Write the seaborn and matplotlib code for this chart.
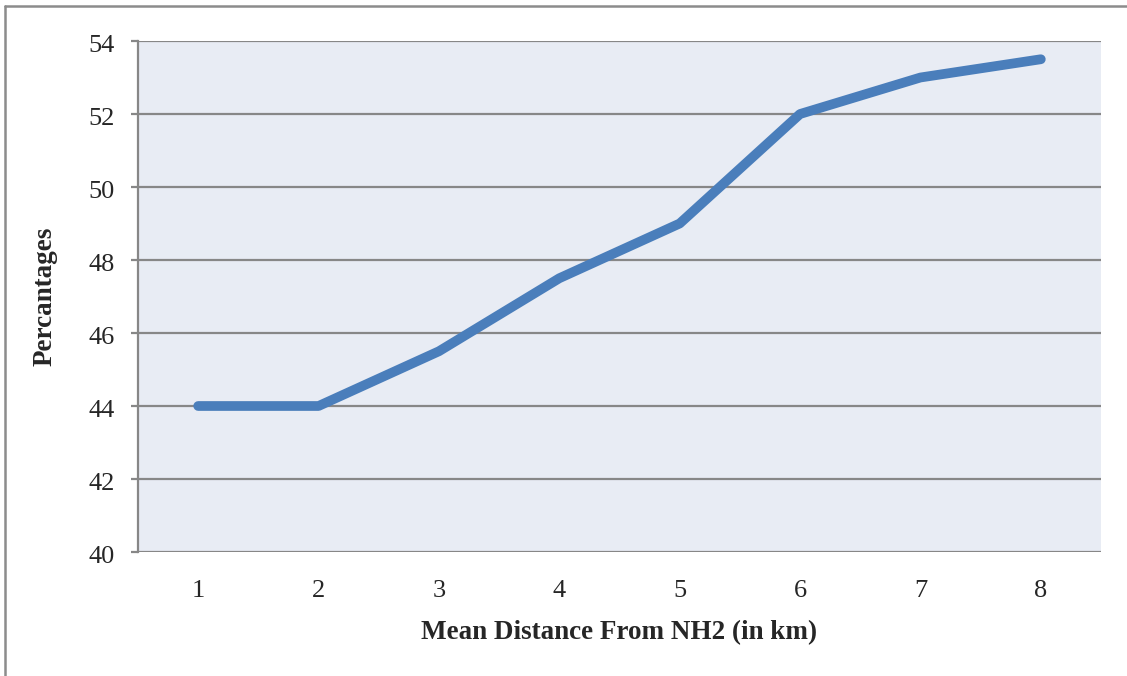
import matplotlib
matplotlib.use("Agg")
import matplotlib.pyplot as plt
import matplotlib.transforms as mtransforms
import seaborn as sns
import pandas as pd
from matplotlib.lines import Line2D

distance = [1, 2, 3, 4, 5, 6, 7, 8]
percentages = [44, 44, 45.5, 47.5, 49, 52, 53, 53.5]
yticks = [40, 42, 44, 46, 48, 50, 52, 54]

sns.set_theme(style="white")
plt.rcParams['font.family'] = ['Liberation Serif', 'DejaVu Serif']

df = pd.DataFrame({"x": distance, "y": percentages})

fig = plt.figure(figsize=(11.27, 6.76), dpi=100)
ax = fig.add_axes([138/1127, 1-552/676, (1101-138)/1127, (552-41)/676])
ax.set_facecolor("#E8ECF4")

grid_c = "#878787"
for t in yticks:
    ax.axhline(t, color=grid_c, lw=1.6, zorder=1)

sns.lineplot(data=df, x="x", y="y", ax=ax, color="#4A7EBB", lw=7,
             solid_capstyle="round", solid_joinstyle="round", zorder=3)

ax.set_xlim(0.5, 8.5)
ax.set_ylim(40, 54)
ax.set_yticks(yticks)
ax.set_xticks(distance)
ax.set_xticklabels([str(d) for d in distance])
ax.tick_params(axis="y", length=5, width=1.6, color=grid_c, labelsize=19, pad=12, left=True)
offset = mtransforms.ScaledTranslation(0, -3/100, fig.dpi_scale_trans)
for lbl in ax.get_yticklabels():
    lbl.set_transform(lbl.get_transform() + offset)
ax.tick_params(axis="x", length=0, labelsize=19, pad=20)
for s in ["top", "right", "bottom"]:
    ax.spines[s].set_visible(False)
ax.spines["left"].set_color(grid_c)
ax.spines["left"].set_linewidth(1.6)

ax.set_xlabel("Mean Distance From NH2 (in km)", fontsize=19.5, fontweight="bold", labelpad=13)
ax.set_ylabel("Percantages", fontsize=19.5, fontweight="bold", labelpad=22)

# outer frame (left and top)
fig.add_artist(Line2D([5/1127, 5/1127], [0, 1-6/676], transform=fig.transFigure, color="#8C8C8C", lw=1.8))
fig.add_artist(Line2D([5/1127, 1], [1-6/676, 1-6/676], transform=fig.transFigure, color="#8C8C8C", lw=1.8))

fig.savefig("out.png", dpi=100)
